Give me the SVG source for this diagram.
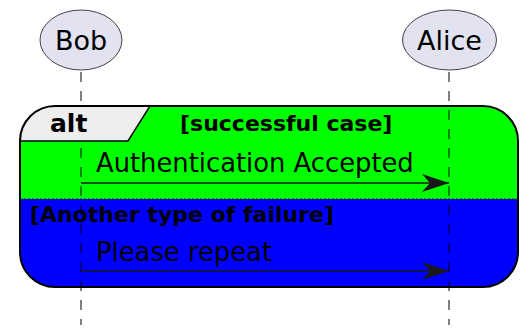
<svg xmlns="http://www.w3.org/2000/svg" width="529" height="333" viewBox="0 0 529 333">
<style>
.part{fill:#E2E2F0;stroke:#181818;stroke-width:0.8}
.ptext{font-family:"DejaVu Sans",sans-serif;font-size:27px;fill:#000;text-anchor:middle}
.life{stroke:#000;stroke-width:1;stroke-dasharray:10,9;fill:none}
.msg{stroke:#181818;stroke-width:1.5;fill:none}
.mtext{font-family:"DejaVu Sans",sans-serif;font-size:25.8px;fill:#000}
.gtext{font-family:"DejaVu Sans",sans-serif;font-weight:bold;font-size:22px;fill:#000}
</style>
<defs>
<clipPath id="fr"><rect x="20" y="106" width="498" height="181" rx="35" ry="35"/></clipPath>
<marker id="ah" markerWidth="28" markerHeight="20" refX="27" refY="9" orient="auto" markerUnits="userSpaceOnUse">
<path d="M0,0 L27,9 L0,18 L8,9 Z" fill="#181818"/>
</marker>
</defs>
<g id="frame">
<g clip-path="url(#fr)">
<rect x="20" y="106" width="498" height="93" fill="#00FF00"/>
<rect x="20" y="199" width="498" height="88" fill="#0000FF"/>
</g>
<line x1="20" y1="199" x2="518" y2="199" stroke="#181818" stroke-width="1" stroke-dasharray="2,2"/>
</g>
<g id="lifelines">
<line class="life" x1="81" y1="72" x2="81" y2="325"/>
<line class="life" x1="449" y1="72" x2="449" y2="325"/>
</g>
<g id="tab">
<polygon points="20,106 150,106 128,141 20,141" fill="#EEEEEE" stroke="#000" stroke-width="1.5" clip-path="url(#fr)"/>
<rect x="20" y="106" width="498" height="181" rx="35" ry="35" fill="none" stroke="#000" stroke-width="2"/>
<text class="gtext" x="50" y="132" style="font-size:25px">alt</text>
<text class="gtext" x="180" y="131">[successful case]</text>
<text class="gtext" x="30" y="222">[Another type of failure]</text>
</g>
<g id="Bob">
<ellipse class="part" cx="81" cy="40" rx="41" ry="30"/>
<text class="ptext" x="81" y="50">Bob</text>
</g>
<g id="Alice">
<ellipse class="part" cx="449.5" cy="40" rx="47" ry="30"/>
<text class="ptext" x="449.5" y="50">Alice</text>
</g>
<g id="connectors">
<line class="msg" x1="81" y1="183" x2="449" y2="183" marker-end="url(#ah)"/>
<text class="mtext" x="96" y="172">Authentication Accepted</text>
<line class="msg" x1="81" y1="271" x2="449" y2="271" marker-end="url(#ah)"/>
<text class="mtext" x="96" y="261">Please repeat</text>
</g>
</svg>
